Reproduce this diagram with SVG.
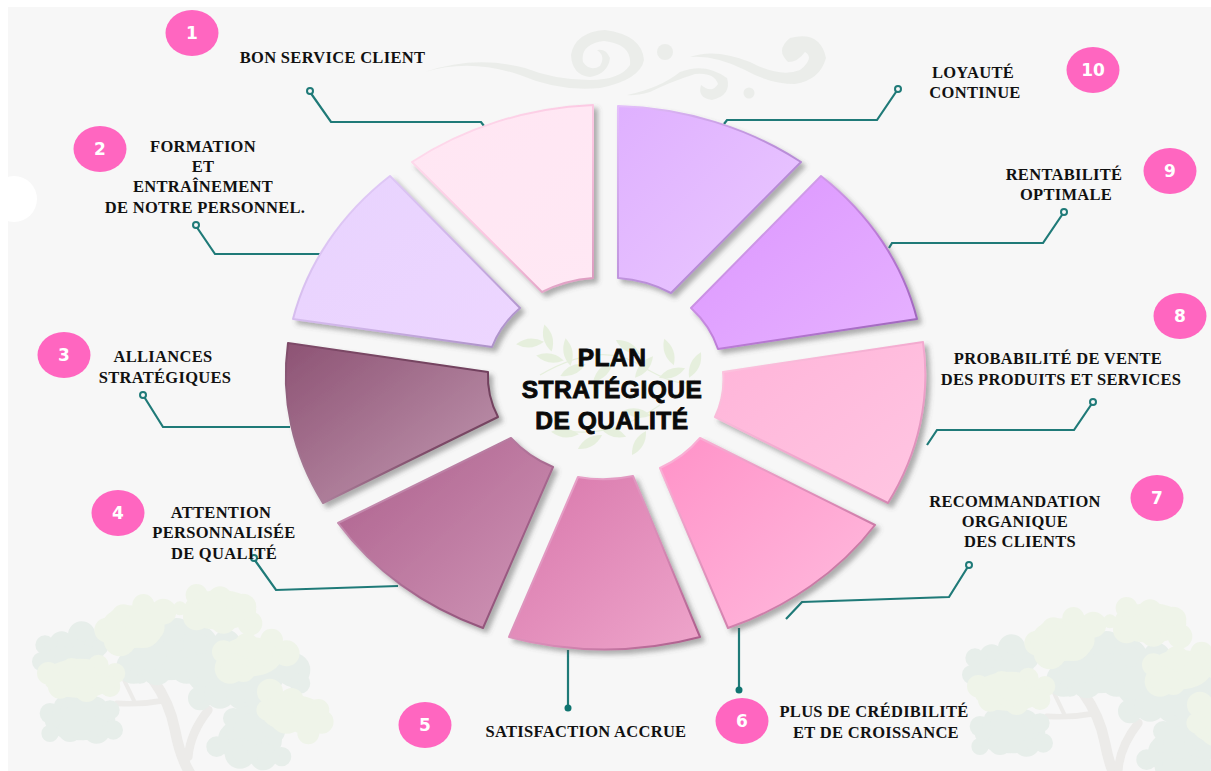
<svg xmlns="http://www.w3.org/2000/svg" xmlns:xlink="http://www.w3.org/1999/xlink" width="1211" height="771" viewBox="0 0 1211 771">
<defs>
<style>
.lbl{font-family:"Liberation Serif","Times New Roman",serif;font-weight:700;font-size:16.5px;letter-spacing:.3px;fill:#111;text-anchor:middle}
.num{font-family:"DejaVu Sans",sans-serif;font-weight:700;font-size:17px;fill:#fff;text-anchor:middle}
.badge{fill:#ff66c0}
.ttl{font-family:"Liberation Sans",Arial,sans-serif;font-weight:700;font-size:24.5px;letter-spacing:.5px;fill:#0a0a0a;stroke:#0a0a0a;stroke-width:.9px;text-anchor:middle}
.seg{filter:url(#sh);stroke-width:2px;stroke-linejoin:round}
.con{fill:none;stroke:#1f7a78;stroke-width:2.2px;stroke-linejoin:miter}
.dot{fill:#f7f7f7;stroke:#1f7a78;stroke-width:2px}
.fdot{fill:#0f7470}
.d{fill:#e7eeea;stroke:#e7eeea;stroke-width:22}
.y{fill:#eff4e9;stroke:#eff4e9;stroke-width:18}
.swf{fill:#ebedea}
.lf{fill:#e6efdd}
</style>
<filter id="sh" x="-10%" y="-10%" width="125%" height="125%"><feDropShadow dx="4" dy="4" stdDeviation="2.5" flood-color="#555" flood-opacity=".45"/></filter>
<linearGradient id="f1" x1="0" y1="0" x2="1" y2="1"><stop offset="0" stop-color="#ffe6f3"/><stop offset="1" stop-color="#ffe8f4"/></linearGradient>
<linearGradient id="s1" x1="0" y1="0" x2="1" y2="1"><stop offset="0" stop-color="#ffe0ef"/><stop offset=".6" stop-color="#fbc4e0"/><stop offset="1" stop-color="#d998bd"/></linearGradient>
<linearGradient id="f2" x1="0" y1="0" x2="1" y2="1"><stop offset="0" stop-color="#e8d3fe"/><stop offset="1" stop-color="#edd6ff"/></linearGradient>
<linearGradient id="s2" x1="0" y1="0" x2="1" y2="1"><stop offset="0" stop-color="#e8d3fe"/><stop offset=".6" stop-color="#cdb2e6"/><stop offset="1" stop-color="#a88cc4"/></linearGradient>
<linearGradient id="f3" x1="0" y1="0" x2="1" y2="1"><stop offset="0" stop-color="#8d5374"/><stop offset="1" stop-color="#c49ab3"/></linearGradient>
<linearGradient id="s3" x1="0" y1="1" x2="1" y2="0"><stop offset="0" stop-color="#b58aa5"/><stop offset=".5" stop-color="#7e4a68"/><stop offset="1" stop-color="#6d3e5a"/></linearGradient>
<linearGradient id="f4" x1="0" y1="0" x2="1" y2="1"><stop offset="0" stop-color="#ac5f8c"/><stop offset="1" stop-color="#d096b7"/></linearGradient>
<linearGradient id="s4" x1="0" y1="0" x2="1" y2="1"><stop offset="0" stop-color="#d9a3c4"/><stop offset=".7" stop-color="#9c5c84"/><stop offset="1" stop-color="#8a4d72"/></linearGradient>
<linearGradient id="f5" x1="0" y1="0" x2="1" y2="1"><stop offset="0" stop-color="#d877ab"/><stop offset="1" stop-color="#eea5cb"/></linearGradient>
<linearGradient id="s5" x1="0" y1="0" x2="1" y2="1"><stop offset="0" stop-color="#eea9cf"/><stop offset=".6" stop-color="#d78ab5"/><stop offset="1" stop-color="#a85a88"/></linearGradient>
<linearGradient id="f6" x1="0" y1="0" x2="1" y2="1"><stop offset="0" stop-color="#ff92c8"/><stop offset="1" stop-color="#ffbcde"/></linearGradient>
<linearGradient id="s6" x1="0" y1="0" x2="1" y2="1"><stop offset="0" stop-color="#ffb6da"/><stop offset=".6" stop-color="#d887b3"/><stop offset="1" stop-color="#b0658e"/></linearGradient>
<linearGradient id="f7" x1="0" y1="0" x2="1" y2="1"><stop offset="0" stop-color="#ffb4d9"/><stop offset="1" stop-color="#ffc6e2"/></linearGradient>
<linearGradient id="s7" x1="0" y1="0" x2="1" y2="1"><stop offset="0" stop-color="#ffc9e2"/><stop offset=".6" stop-color="#f0a3cb"/><stop offset="1" stop-color="#cf80ac"/></linearGradient>
<linearGradient id="f8" x1="0" y1="0" x2="1" y2="1"><stop offset="0" stop-color="#dc95ff"/><stop offset="1" stop-color="#e6b2ff"/></linearGradient>
<linearGradient id="s8" x1="0" y1="0" x2="1" y2="1"><stop offset="0" stop-color="#e6bdfb"/><stop offset=".55" stop-color="#bd7dd8"/><stop offset="1" stop-color="#9a62b8"/></linearGradient>
<linearGradient id="f9" x1="0" y1="0" x2="1" y2="1"><stop offset="0" stop-color="#dfb0ff"/><stop offset="1" stop-color="#eac9ff"/></linearGradient>
<linearGradient id="s9" x1="0" y1="0" x2="1" y2="1"><stop offset="0" stop-color="#e4c0fb"/><stop offset=".5" stop-color="#bd91db"/><stop offset="1" stop-color="#a87cc8"/></linearGradient>
<g id="tree">
<g fill="none" stroke="#ecebe9" stroke-linecap="round">
<path d="M460 330Q510 400 525 480T570 610" stroke-width="32"/>
<path d="M625 420Q570 490 565 560" stroke-width="26"/>
<path d="M490 392Q420 405 350 400" stroke-width="17"/>
<path d="M372 330L402 392" stroke-width="12"/>
</g>
<g class="d">
<ellipse cx="215" cy="250" rx="85" ry="45"/><ellipse cx="240" cy="450" rx="95" ry="50"/><ellipse cx="500" cy="250" rx="110" ry="70"/><ellipse cx="700" cy="310" rx="130" ry="70"/><ellipse cx="750" cy="510" rx="85" ry="60"/>
<circle cx="135" cy="225" r="18"/><circle cx="185" cy="220" r="25"/><circle cx="245" cy="195" r="30"/><circle cx="290" cy="225" r="25"/><circle cx="125" cy="275" r="18"/><circle cx="180" cy="270" r="30"/><circle cx="250" cy="270" r="35"/>
<circle cx="400" cy="290" r="40"/><circle cx="420" cy="310" r="20"/><circle cx="470" cy="300" r="35"/><circle cx="530" cy="190" r="35"/><circle cx="600" cy="220" r="40"/><circle cx="680" cy="220" r="30"/><circle cx="450" cy="250" r="40"/><circle cx="560" cy="290" r="40"/><circle cx="610" cy="300" r="40"/>
<circle cx="600" cy="385" r="25"/><circle cx="660" cy="370" r="35"/><circle cx="730" cy="370" r="40"/><circle cx="800" cy="320" r="40"/><circle cx="880" cy="300" r="40"/><circle cx="900" cy="340" r="20"/><circle cx="780" cy="380" r="35"/>
<circle cx="150" cy="430" r="20"/><circle cx="210" cy="420" r="40"/><circle cx="280" cy="430" r="40"/><circle cx="330" cy="420" r="18"/><circle cx="150" cy="490" r="15"/><circle cx="210" cy="480" r="25"/><circle cx="290" cy="480" r="30"/><circle cx="340" cy="480" r="18"/><circle cx="250" cy="450" r="50"/>
<circle cx="700" cy="445" r="20"/><circle cx="750" cy="480" r="60"/><circle cx="810" cy="480" r="35"/><circle cx="650" cy="530" r="20"/><circle cx="720" cy="550" r="35"/><circle cx="790" cy="560" r="30"/><circle cx="845" cy="560" r="18"/>
</g>
<g class="y">
<ellipse cx="400" cy="170" rx="85" ry="55"/><ellipse cx="660" cy="120" rx="100" ry="50"/><ellipse cx="750" cy="260" rx="85" ry="50"/><ellipse cx="240" cy="325" rx="100" ry="50"/><ellipse cx="880" cy="430" rx="85" ry="45"/>
<circle cx="430" cy="105" r="24"/><circle cx="490" cy="125" r="30"/><circle cx="370" cy="140" r="28"/><circle cx="320" cy="180" r="28"/><circle cx="360" cy="210" r="40"/><circle cx="430" cy="180" r="45"/><circle cx="590" cy="75" r="24"/><circle cx="660" cy="85" r="27"/><circle cx="730" cy="110" r="30"/><circle cx="590" cy="140" r="32"/><circle cx="670" cy="150" r="32"/><circle cx="750" cy="160" r="28"/><circle cx="540" cy="115" r="12"/><circle cx="660" cy="115" r="30"/>
<circle cx="670" cy="245" r="25"/><circle cx="740" cy="225" r="27"/><circle cx="815" cy="210" r="25"/><circle cx="860" cy="250" r="30"/><circle cx="690" cy="295" r="37"/><circle cx="730" cy="300" r="27"/><circle cx="790" cy="260" r="37"/>
<circle cx="145" cy="310" r="25"/><circle cx="215" cy="295" r="22"/><circle cx="295" cy="285" r="22"/><circle cx="345" cy="310" r="22"/><circle cx="180" cy="350" r="27"/><circle cx="260" cy="360" r="27"/><circle cx="330" cy="350" r="22"/><circle cx="240" cy="320" r="42"/>
<circle cx="810" cy="365" r="30"/><circle cx="875" cy="390" r="27"/><circle cx="955" cy="420" r="24"/><circle cx="800" cy="420" r="22"/><circle cx="860" cy="440" r="42"/><circle cx="925" cy="490" r="24"/><circle cx="965" cy="455" r="27"/><circle cx="910" cy="440" r="42"/>
</g>
</g>
<path id="lf" d="M-14 0Q0 -9 14 0Q0 9 -14 0Z"/>
</defs>

<rect width="1211" height="771" fill="#fff"/>
<rect x="8" y="7" width="1203" height="764" fill="#f7f7f7"/>
<ellipse cx="14" cy="199" rx="23" ry="23" fill="#fff"/>

<g id="background">
<use xlink:href="#tree" href="#tree" transform="translate(0 570) scale(.3333)"/>
<use xlink:href="#tree" href="#tree" transform="translate(930 583) scale(.3333)"/>
<g class="swf">
<path d="M425 72Q470 58 520 75Q560 92 600 88Q640 80 644 60Q642 35 605 30Q575 32 571 55Q572 75 590 77Q608 74 610 58Q606 48 597 50Q606 56 600 66Q590 72 583 62Q580 44 604 41Q632 44 630 65Q620 80 590 80Q555 80 525 68Q475 55 425 72Z"/>
<path d="M627 95Q660 88 680 72Q705 62 727 78Q732 95 712 100Q697 98 701 85Q712 94 718 84Q714 72 695 74Q670 82 650 92Q635 96 627 95Z"/>
<path d="M690 57Q715 48 750 62Q780 78 800 70Q815 58 805 52Q798 62 788 62Q775 50 790 38Q820 30 826 58Q820 80 795 84Q770 84 745 70Q715 55 690 57Z"/>
<circle cx="665" cy="52" r="8"/><circle cx="749" cy="93" r="5.5"/>
</g>
</g>

<g id="center">
<g fill="none" stroke="#e6efdd" stroke-width="1.2"><path d="M540 375Q600 340 640 365T695 380"/><path d="M560 430Q610 440 660 405"/></g>
<g class="lf">
<use href="#lf" transform="translate(530 343) rotate(-5)"/><use href="#lf" transform="translate(548 338) rotate(75)"/><use href="#lf" transform="translate(550 358) rotate(10)"/><use href="#lf" transform="translate(568 352) rotate(80)"/><use href="#lf" transform="translate(573 370) rotate(-25)"/><use href="#lf" transform="translate(603 372) rotate(-45)"/><use href="#lf" transform="translate(628 347) rotate(30)"/><use href="#lf" transform="translate(644 367) rotate(-50)"/><use href="#lf" transform="translate(669 352) rotate(70)"/><use href="#lf" transform="translate(672 373) rotate(-20)"/><use href="#lf" transform="translate(695 365) rotate(-65)"/><use href="#lf" transform="translate(637 413) rotate(10)"/><use href="#lf" transform="translate(565 433) rotate(5)"/><use href="#lf" transform="translate(590 442) rotate(-30)"/><use href="#lf" transform="translate(639 443) rotate(-60)"/><use href="#lf" transform="translate(613 432) rotate(20)"/>
</g>
<text class="ttl" x="612" y="366">PLAN</text>
<text class="ttl" x="612" y="398">STRATÉGIQUE</text>
<text class="ttl" x="612" y="429">DE QUALITÉ</text>
</g>

<g id="connectors">
<path class="con" d="M310 92L331 122H481L484 126"/>
<path class="con" d="M196 226L215 254H321"/>
<path class="con" d="M143 395L163 427H290"/>
<path class="con" d="M254 559L276 590L398 586"/>
<path class="con" d="M568 650V708"/>
<path class="con" d="M739 628V690"/>
<path class="con" d="M969 565L949 597L802 602L786 619"/>
<path class="con" d="M1093 402L1074 430H937L927 445"/>
<path class="con" d="M1064 212L1043 243H892L889 248"/>
<path class="con" d="M898 89L877 120H727L724 124"/>
<circle class="dot" cx="310" cy="91" r="3"/><circle class="dot" cx="196" cy="225" r="3"/><circle class="dot" cx="143" cy="395" r="3"/><circle class="dot" cx="254" cy="558" r="3"/>
<circle class="fdot" cx="568" cy="708" r="3.5"/><circle class="fdot" cx="739" cy="690" r="3.5"/>
<circle class="dot" cx="969" cy="565" r="3"/><circle class="dot" cx="1093" cy="402" r="3"/><circle class="dot" cx="1064" cy="212" r="3"/><circle class="dot" cx="898" cy="89" r="3"/>
</g>

<g id="node1"><path class="seg" fill="url(#f1)" stroke="url(#s1)" d="M412 162A320 273 0 0 1 593 105V278A118 100 0 0 0 542 292Z"/><ellipse class="badge" cx="192" cy="33" rx="26.5" ry="23"/><text class="num" x="192" y="39">1</text><text class="lbl" x="332.5" y="63">BON SERVICE CLIENT</text></g>
<g id="node2"><path class="seg" fill="url(#f2)" stroke="url(#s2)" d="M293 319A320 273 0 0 1 390 176L520 308A118 100 0 0 0 492 347Z"/><ellipse class="badge" cx="100" cy="149" rx="26.5" ry="23"/><text class="num" x="100" y="155">2</text><text class="lbl" x="203" y="152">FORMATION</text><text class="lbl" x="203" y="172">ET</text><text class="lbl" x="203" y="192">ENTRAÎNEMENT</text><text class="lbl" x="205" y="213">DE NOTRE PERSONNEL.</text></g>
<g id="node3"><path class="seg" fill="url(#f3)" stroke="url(#s3)" d="M323 503A320 273 0 0 1 288 343L488 372A118 100 0 0 0 498 417Z"/><ellipse class="badge" cx="64" cy="355" rx="26.5" ry="23"/><text class="num" x="64" y="361">3</text><text class="lbl" x="163" y="362">ALLIANCES</text><text class="lbl" x="165" y="383">STRATÉGIQUES</text></g>
<g id="node4"><path class="seg" fill="url(#f4)" stroke="url(#s4)" d="M483 628A320 273 0 0 1 338 523L511 438A118 100 0 0 0 553 467Z"/><ellipse class="badge" cx="118" cy="513" rx="26.5" ry="23"/><text class="num" x="118" y="519">4</text><text class="lbl" x="221" y="518">ATTENTION</text><text class="lbl" x="224" y="538">PERSONNALISÉE</text><text class="lbl" x="224" y="559">DE QUALITÉ</text></g>
<g id="node5"><path class="seg" fill="url(#f5)" stroke="url(#s5)" d="M700 637A320 273 0 0 1 509 637L578 477A118 100 0 0 0 633 476Z"/><ellipse class="badge" cx="425" cy="725" rx="26.5" ry="23"/><text class="num" x="425" y="731">5</text><text class="lbl" x="586" y="737">SATISFACTION ACCRUE</text></g>
<g id="node6"><path class="seg" fill="url(#f6)" stroke="url(#s6)" d="M875 525A320 273 0 0 1 728 628L660 468A118 100 0 0 0 700 438Z"/><ellipse class="badge" cx="742" cy="721" rx="26.5" ry="23"/><text class="num" x="742" y="727">6</text><text class="lbl" x="874" y="717">PLUS DE CRÉDIBILITÉ</text><text class="lbl" x="876" y="738">ET DE CROISSANCE</text></g>
<g id="node7"><path class="seg" fill="url(#f7)" stroke="url(#s7)" d="M923 342A320 273 0 0 1 888 503L715 417A118 100 0 0 0 723 372Z"/><ellipse class="badge" cx="1157" cy="498" rx="26.5" ry="23"/><text class="num" x="1157" y="504">7</text><text class="lbl" x="1015" y="507">RECOMMANDATION</text><text class="lbl" x="1015" y="527">ORGANIQUE</text><text class="lbl" x="1020" y="547">DES CLIENTS</text></g>
<g id="node8"><path class="seg" fill="url(#f8)" stroke="url(#s8)" d="M821 176A320 273 0 0 1 917 319L718 349A118 100 0 0 0 691 308Z"/><ellipse class="badge" cx="1180" cy="316" rx="26.5" ry="23"/><text class="num" x="1180" y="322">8</text><text class="lbl" x="1058" y="364">PROBABILITÉ DE VENTE</text><text class="lbl" x="1061" y="385">DES PRODUITS ET SERVICES</text></g>
<g id="node9"><path class="seg" fill="url(#f9)" stroke="url(#s9)" d="M618 106A320 273 0 0 1 801 162L671 293A118 100 0 0 0 618 278Z"/><ellipse class="badge" cx="1170" cy="171" rx="26.5" ry="23"/><text class="num" x="1170" y="177">9</text><text class="lbl" x="1064" y="180">RENTABILITÉ</text><text class="lbl" x="1066" y="200">OPTIMALE</text></g>
<g id="node10"><ellipse class="badge" cx="1093" cy="70" rx="26.5" ry="23"/><text class="num" x="1093" y="76">10</text><text class="lbl" x="973" y="78">LOYAUTÉ</text><text class="lbl" x="975" y="98">CONTINUE</text></g>
</svg>
